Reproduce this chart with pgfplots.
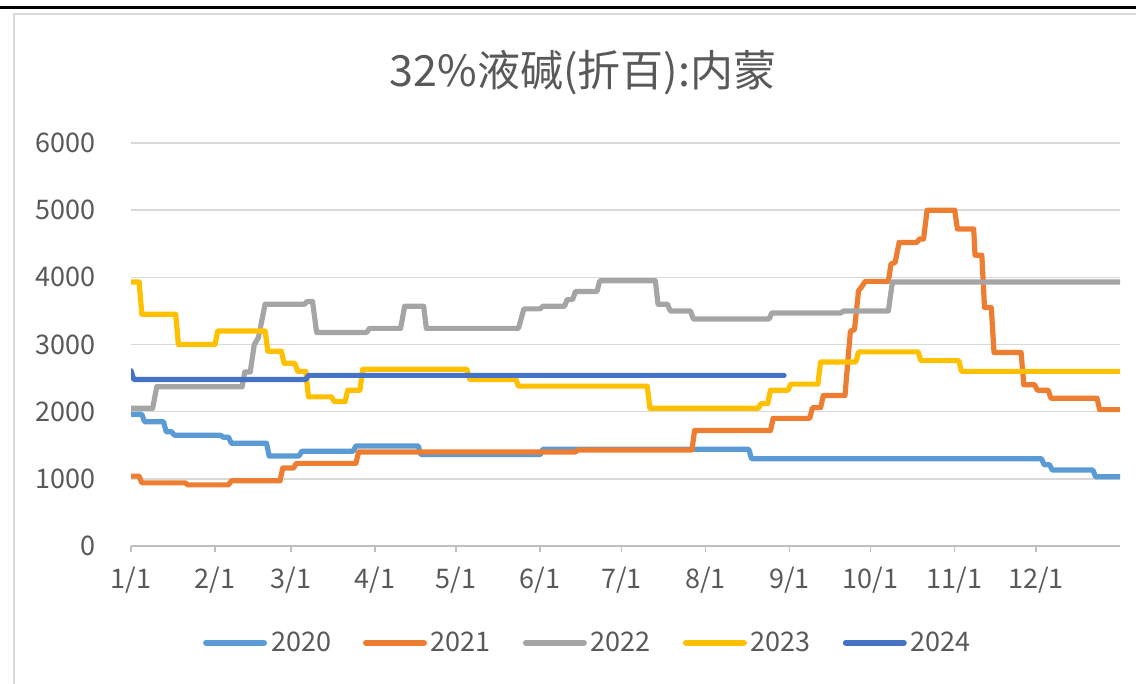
\documentclass[border=0pt]{standalone}
\usepackage{pgfplots}
\pgfplotsset{compat=1.18}
\usepackage{fontspec}
\setmainfont{Noto Sans CJK SC}
\definecolor{tc}{HTML}{595959}
\definecolor{gridc}{HTML}{D9D9D9}
\definecolor{axc}{HTML}{BFBFBF}
\definecolor{c20}{HTML}{5B9BD5}
\definecolor{c21}{HTML}{ED7D31}
\definecolor{c22}{HTML}{A5A5A5}
\definecolor{c23}{HTML}{FFC000}
\definecolor{c24}{HTML}{4472C4}
\begin{document}
\begin{tikzpicture}
\useasboundingbox (0,0) rectangle (568pt,342pt);
\draw[black, line width=1.5pt] (0,338.25pt) -- (568pt,338.25pt);
\draw[gridc, line width=1pt] (7pt,0) -- (7pt,335pt) -- (568pt,335pt);
\node[text=tc, font=\fontsize{21.5}{25}\selectfont] at (291.5pt,305.5pt) {32\%液碱(折百):内蒙};
\begin{axis}[
  at={(65.5pt,69pt)}, anchor=south west,
  scale only axis, width=494.5pt, height=201.5pt,
  xmin=0, xmax=365, ymin=0, ymax=6000,
  axis x line*=bottom, axis y line*=left,
  x axis line style={draw=axc, line width=1pt},
  y axis line style={draw=none},
  xtick={0,31,59,90,120,151,181,212,243,273,304,334},
  xticklabels={1/1,2/1,3/1,4/1,5/1,6/1,7/1,8/1,9/1,10/1,11/1,12/1},
  ytick={0,1000,2000,3000,4000,5000,6000},
  tick align=outside, major tick length=3pt,
  xtick style={draw=axc, line width=0.75pt},
  ytick style={draw=none},
  ymajorgrids, grid style={draw=gridc, line width=0.8pt},
  tick label style={text=tc, font=\fontsize{13.5}{15}\selectfont},
  /pgf/number format/assume math mode=true,
  /pgf/number format/1000 sep={},
  yticklabel style={xshift=-11pt},
  xticklabel style={yshift=-4pt},
  every axis plot/.append style={line width=2.6pt, line join=round, line cap=round},
  legend style={draw=none, at={(0.463,-0.24)}, anchor=center, legend columns=5,
    font=\fontsize{13.5}{15}\selectfont, text=tc,
    /tikz/every even column/.append style={column sep=14pt}},
  legend cell align=left,
  legend image code/.code={\draw[#1,line width=3pt,line cap=round] (0pt,0pt) -- (29pt,0pt);},
]
\addplot[c20] coordinates {(0,1960)(4,1960)(5,1850)(12,1850)(13,1700)(15,1700)(16,1650)(33,1650)(34,1620)(36,1620)(37,1530)(50,1530)(51,1340)(62,1340)(63,1410)(82,1410)(83,1490)(106,1490)(107,1360)(151,1360)(152,1440)(228,1440)(229,1300)(336,1300)(337,1210)(339,1210)(340,1130)(355,1130)(356,1030)(365,1030)};
\addlegendentry{2020}
\addplot[c21] coordinates {(0,1040)(3,1040)(4,940)(20,940)(21,910)(36,910)(37,970)(55,970)(56,1160)(60,1160)(61,1230)(83,1230)(84,1400)(164,1400)(165,1430)(207,1430)(208,1720)(236,1720)(237,1900)(250.5,1900)(251.5,2060)(254.5,2060)(255.5,2240)(263.5,2240)(265.5,3200)(267,3220)(268.5,3800)(269.5,3850)(271,3940)(279.5,3940)(280.5,4200)(282,4220)(283.5,4520)(290,4520)(291,4570)(292.5,4570)(293.8,5000)(304,5000)(305,4720)(311,4720)(311.5,4330)(314,4330)(315,3550)(317.5,3550)(318.5,2880)(328.5,2880)(329.5,2400)(333.5,2400)(334.5,2320)(338.5,2320)(339.5,2200)(356.5,2200)(357.5,2030)(365,2030)};
\addlegendentry{2021}
\addplot[c22] coordinates {(0,2050)(8,2050)(9.5,2370)(41,2370)(42,2590)(44,2590)(45.5,3000)(47,3100)(49.5,3600)(64,3600)(65,3640)(67,3640)(68.5,3180)(87,3180)(88,3240)(99.5,3240)(101,3570)(108,3570)(109,3240)(143,3240)(145,3530)(151,3530)(152,3570)(160,3570)(161,3670)(163,3670)(164,3790)(172,3790)(173,3950)(193.5,3950)(194.5,3600)(198,3600)(199,3500)(206.5,3500)(207.5,3380)(235.5,3380)(236.5,3470)(262,3470)(263,3500)(279.5,3500)(281,3930)(365,3930)};
\addlegendentry{2022}
\addplot[c23] coordinates {(0,3930)(3,3930)(4,3450)(16.5,3450)(17.5,3000)(31,3000)(32,3200)(49.5,3200)(50.5,2900)(55.5,2900)(56.5,2720)(60.5,2720)(61.5,2600)(64.5,2600)(65.5,2220)(74,2220)(75,2150)(79,2150)(80,2320)(84.5,2320)(85.5,2630)(124,2630)(125,2480)(142,2480)(143,2380)(190.5,2380)(191.5,2050)(231.5,2050)(232.5,2120)(235,2120)(236,2320)(242.5,2320)(243.5,2410)(253.5,2410)(254.5,2740)(267.5,2740)(268.5,2890)(290.5,2890)(291.5,2760)(305.5,2760)(306.5,2600)(365,2600)};
\addlegendentry{2023}
\addplot[c24] coordinates {(0,2610)(1,2480)(64.5,2480)(65.5,2540)(241,2540)};
\addlegendentry{2024}
\end{axis}
\end{tikzpicture}
\end{document}
